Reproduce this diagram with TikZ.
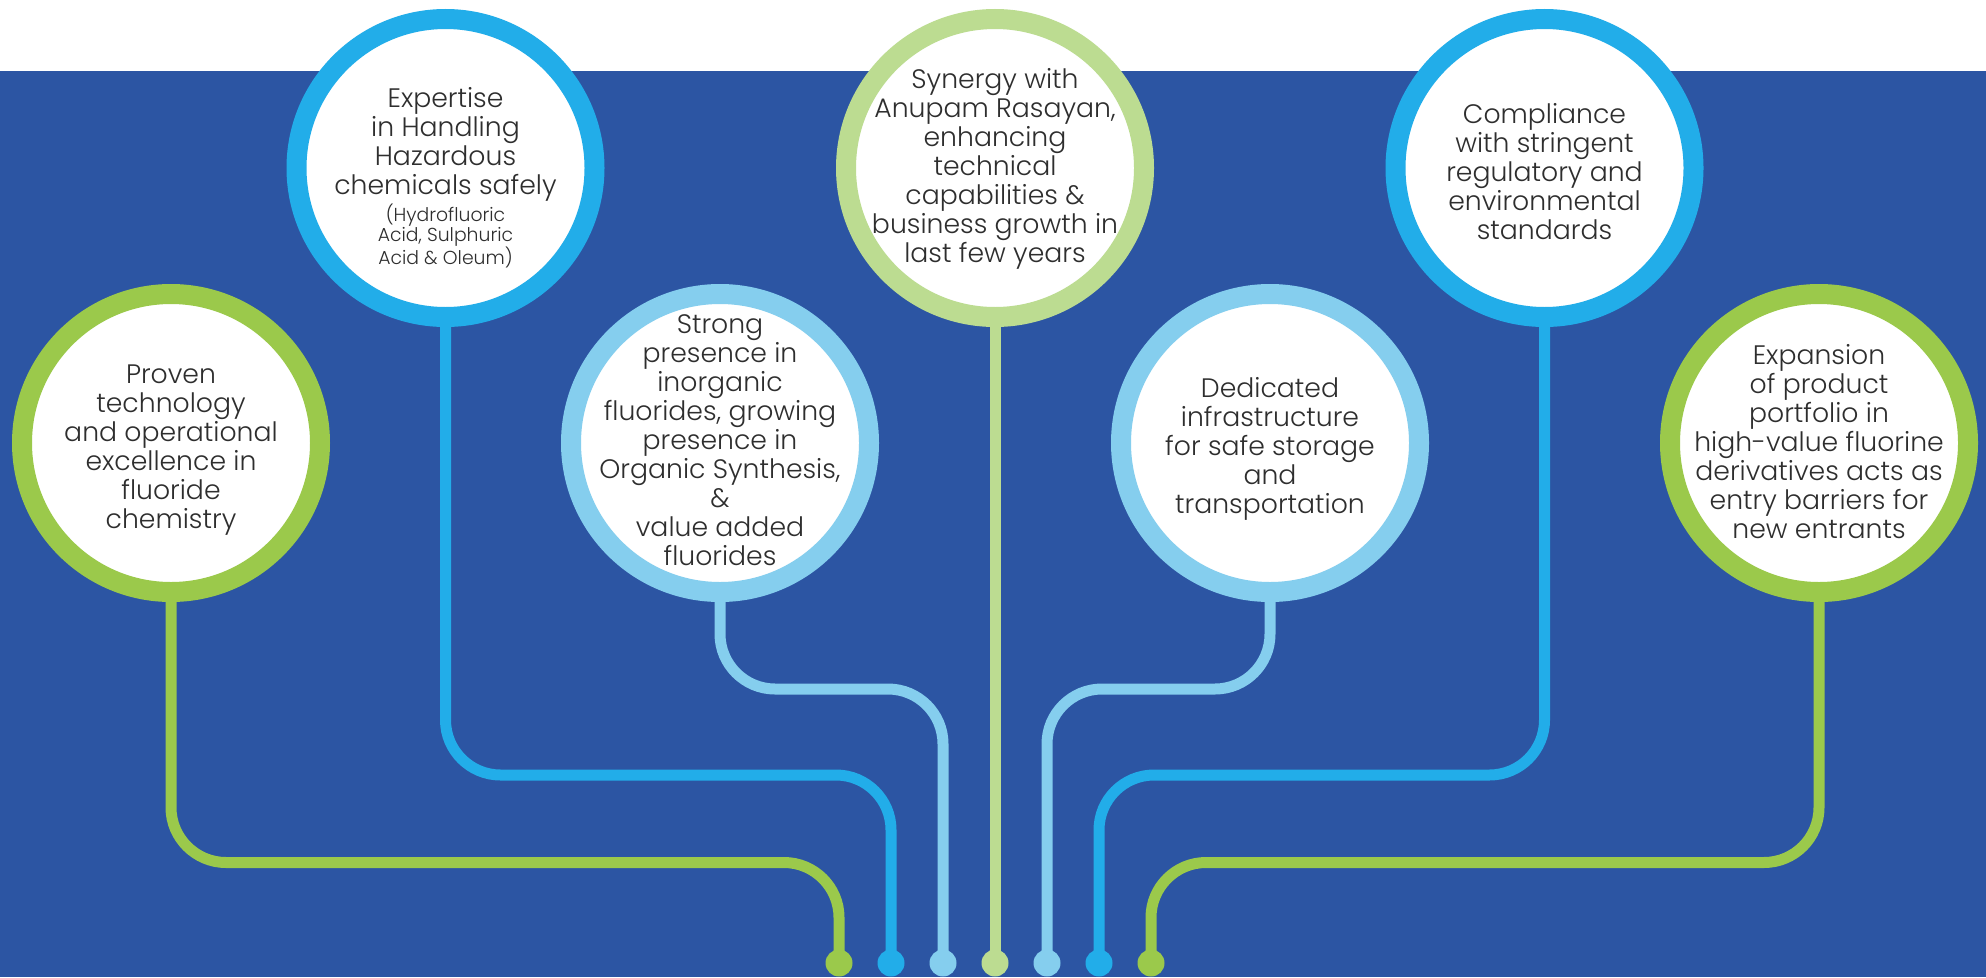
\documentclass[tikz,border=0pt]{standalone}
\usepackage{fontspec}
\setmainfont{Poppins Light}
\usetikzlibrary{backgrounds}
\definecolor{bgblue}{HTML}{2C55A3}
\definecolor{cgreen}{HTML}{9BC94B}
\definecolor{ccyan}{HTML}{22ADE9}
\definecolor{clight}{HTML}{85CEEE}
\definecolor{cpale}{HTML}{BCDC91}
\definecolor{txt}{HTML}{2E2E2E}
\tikzset{
  ring/.style={circle, draw=#1, fill=white, line width=20pt, minimum size=298pt, inner sep=0pt},
  wire/.style={draw=#1, line width=11pt, rounded corners=55pt},
  dotnode/.style={circle, fill=#1, minimum size=27pt, inner sep=0pt},
  label/.style={align=center, anchor=north, inner sep=0pt, text=txt, font=\fontsize{26.7}{29}\selectfont},
  smalllabel/.style={align=center, anchor=north, inner sep=0pt, text=txt, font=\fontsize{18.8}{19.5}\selectfont}
}
\begin{document}
\begin{tikzpicture}[x=1pt,y=-1pt]
\useasboundingbox (0,0) rectangle (1986,977);
% circles
\node[ring=cgreen] (c1) at (171,443) {};
\node[ring=ccyan] (c2) at (445.5,168) {};
\node[ring=clight] (c3) at (720,443) {};
\node[ring=cpale] (c4) at (995,168) {};
\node[ring=clight] (c5) at (1270,443) {};
\node[ring=ccyan] (c6) at (1544.5,168) {};
\node[ring=cgreen] (c7) at (1819,443) {};
% dots
\node[dotnode=cgreen] (d1) at (839,963) {};
\node[dotnode=ccyan] (d2) at (891,963) {};
\node[dotnode=clight] (d3) at (943,963) {};
\node[dotnode=cpale] (d4) at (995,963) {};
\node[dotnode=clight] (d5) at (1047,963) {};
\node[dotnode=ccyan] (d6) at (1099,963) {};
\node[dotnode=cgreen] (d7) at (1151,963) {};
% background and wires
\begin{scope}[on background layer]
\fill[white] (0,0) rectangle (1986,977);
\fill[bgblue] (0,71) rectangle (1986,977);
\path[wire=cgreen] (c1.south) -- (c1.south |- 0,862.5) -- (d1.center |- 0,862.5) -- (d1.center);
\path[wire=ccyan] (c2.south) -- (c2.south |- 0,775) -- (d2.center |- 0,775) -- (d2.center);
\path[wire=clight] (c3.south) -- (c3.south |- 0,689) -- (d3.center |- 0,689) -- (d3.center);
\path[wire=cpale] (c4.south) -- (d4.center);
\path[wire=clight] (c5.south) -- (c5.south |- 0,689) -- (d5.center |- 0,689) -- (d5.center);
\path[wire=ccyan] (c6.south) -- (c6.south |- 0,775) -- (d6.center |- 0,775) -- (d6.center);
\path[wire=cgreen] (c7.south) -- (c7.south |- 0,862.5) -- (d7.center |- 0,862.5) -- (d7.center);
\end{scope}
% texts
\node[label] (t1) at (171,365) {Proven\\technology\\and operational\\excellence in\\fluoride\\chemistry};
\node[label] (t2) at (445.5,87) {Expertise\\in Handling\\Hazardous\\chemicals safely};
\node[smalllabel] (t2b) at (445.5,204) {(Hydrofluoric\\Acid, Sulphuric\\Acid \& Oleum)};
\node[label] (t3) at (720,314) {Strong\\presence in\\inorganic\\fluorides, growing\\presence in\\Organic Synthesis,\\\&\\value added\\fluorides};
\node[label] (t4) at (995,68) {Synergy with\\Anupam Rasayan,\\enhancing\\technical\\capabilities \&\\business growth in\\last few years};
\node[label] (t5) at (1270,377) {Dedicated\\infrastructure\\for safe storage\\and\\transportation};
\node[label] (t6) at (1544.5,103) {Compliance\\with stringent\\regulatory and\\environmental\\standards};
\node[label] (t7) at (1819,344) {Expansion\\of product\\portfolio in\\high-value fluorine\\derivatives acts as\\entry barriers for\\new entrants};
\end{tikzpicture}
\end{document}
